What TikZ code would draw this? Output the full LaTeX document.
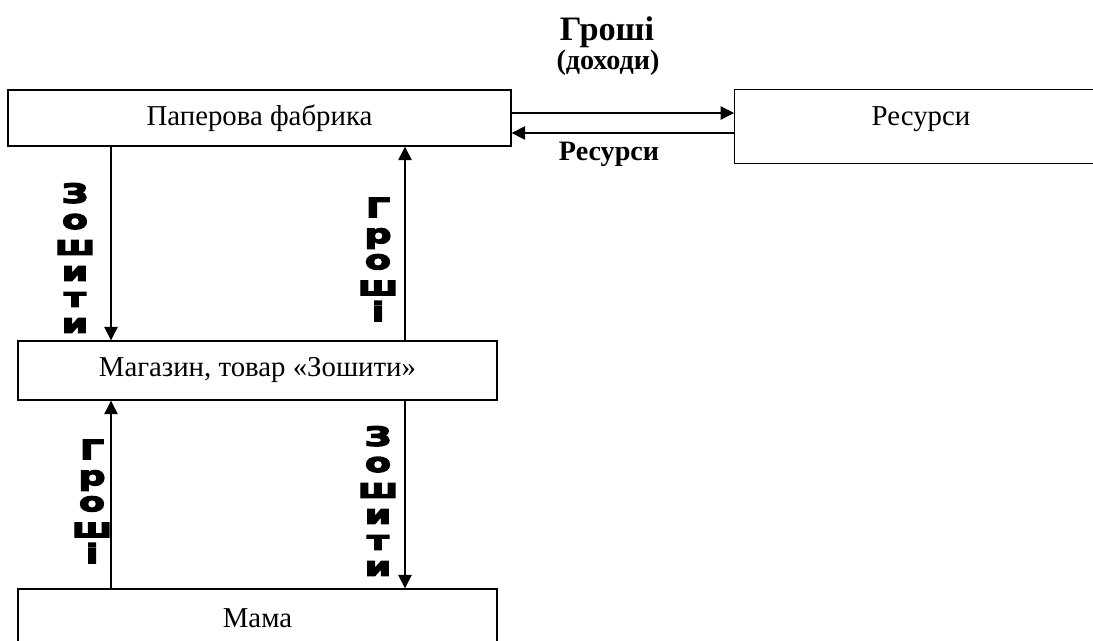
\documentclass[tikz,border=0pt]{standalone}
\usepackage{fontspec}
\setmainfont{Liberation Serif}
\newfontfamily\heavyfont[FakeBold=5,FakeStretch=1.45]{DejaVu Sans Bold}
\usetikzlibrary{arrows.meta}
\tikzset{
  box/.style={draw, line width=0.8pt, inner sep=0pt, font=\fontsize{16.4}{19}\selectfont},
  flow/.style={-{Triangle[length=2.7mm,width=2.7mm]}, line width=0.7pt},
  vword/.style={font=\heavyfont\fontsize{15}{14.8}\selectfont, align=center, inner sep=0pt},
  toplabel/.style={font=\bfseries\fontsize{#1}{#1}\selectfont, anchor=base, inner sep=0pt}
}
\begin{document}
\begin{tikzpicture}[x=0.02cm,y=-0.02cm]
\useasboundingbox (0,0) rectangle (1093,640);
% boxes
\node[box, minimum width=10.06cm, minimum height=1.12cm] (fab) at (259.5,118) {Паперова фабрика};
\node[box, minimum width=7.4cm, minimum height=1.48cm, anchor=north west] (res) at (734,89) {};
\node[font=\fontsize{16.4}{19}\selectfont] (restext) at (921,119) {Ресурси};
\node[box, minimum width=9.58cm, minimum height=1.18cm] (shop) at (257.5,370.5) {Магазин, товар «Зошити»};
\node[box, minimum width=9.58cm, minimum height=1.18cm] (mom) at (257.5,618.5) {Мама};
% arrow lines
\coordinate (xl) at (111,0); \coordinate (xr) at (405,0);
\coordinate (yt) at (0,113); \coordinate (yb) at (0,133);
\draw[flow] (fab.south -| xl) -- (shop.north -| xl);
\draw[flow] (shop.north -| xr) -- (fab.south -| xr);
\draw[flow] (mom.north -| xl) -- (shop.south -| xl);
\draw[flow] (shop.south -| xr) -- (mom.north -| xr);
\draw[flow] (fab.east |- yt) -- (res.west |- yt);
\draw[flow] (res.west |- yb) -- (fab.east |- yb);
% labels
\node[toplabel=19.5] (money) at (607,40) {Гроші};
\node[toplabel=16] (income) at (608,69) {(доходи)};
\node[toplabel=16] (reslabel) at (609,160) {Ресурси};
\node[vword] (w1) at (75,258) {З\\о\\ш\\и\\т\\и};
\node[vword] (w2) at (378,259.5) {Г\\р\\о\\ш\\і};
\node[vword] (w3) at (92,501.5) {Г\\р\\о\\ш\\і};
\node[vword] (w4) at (378,501) {З\\о\\ш\\и\\т\\и};
\end{tikzpicture}
\end{document}
